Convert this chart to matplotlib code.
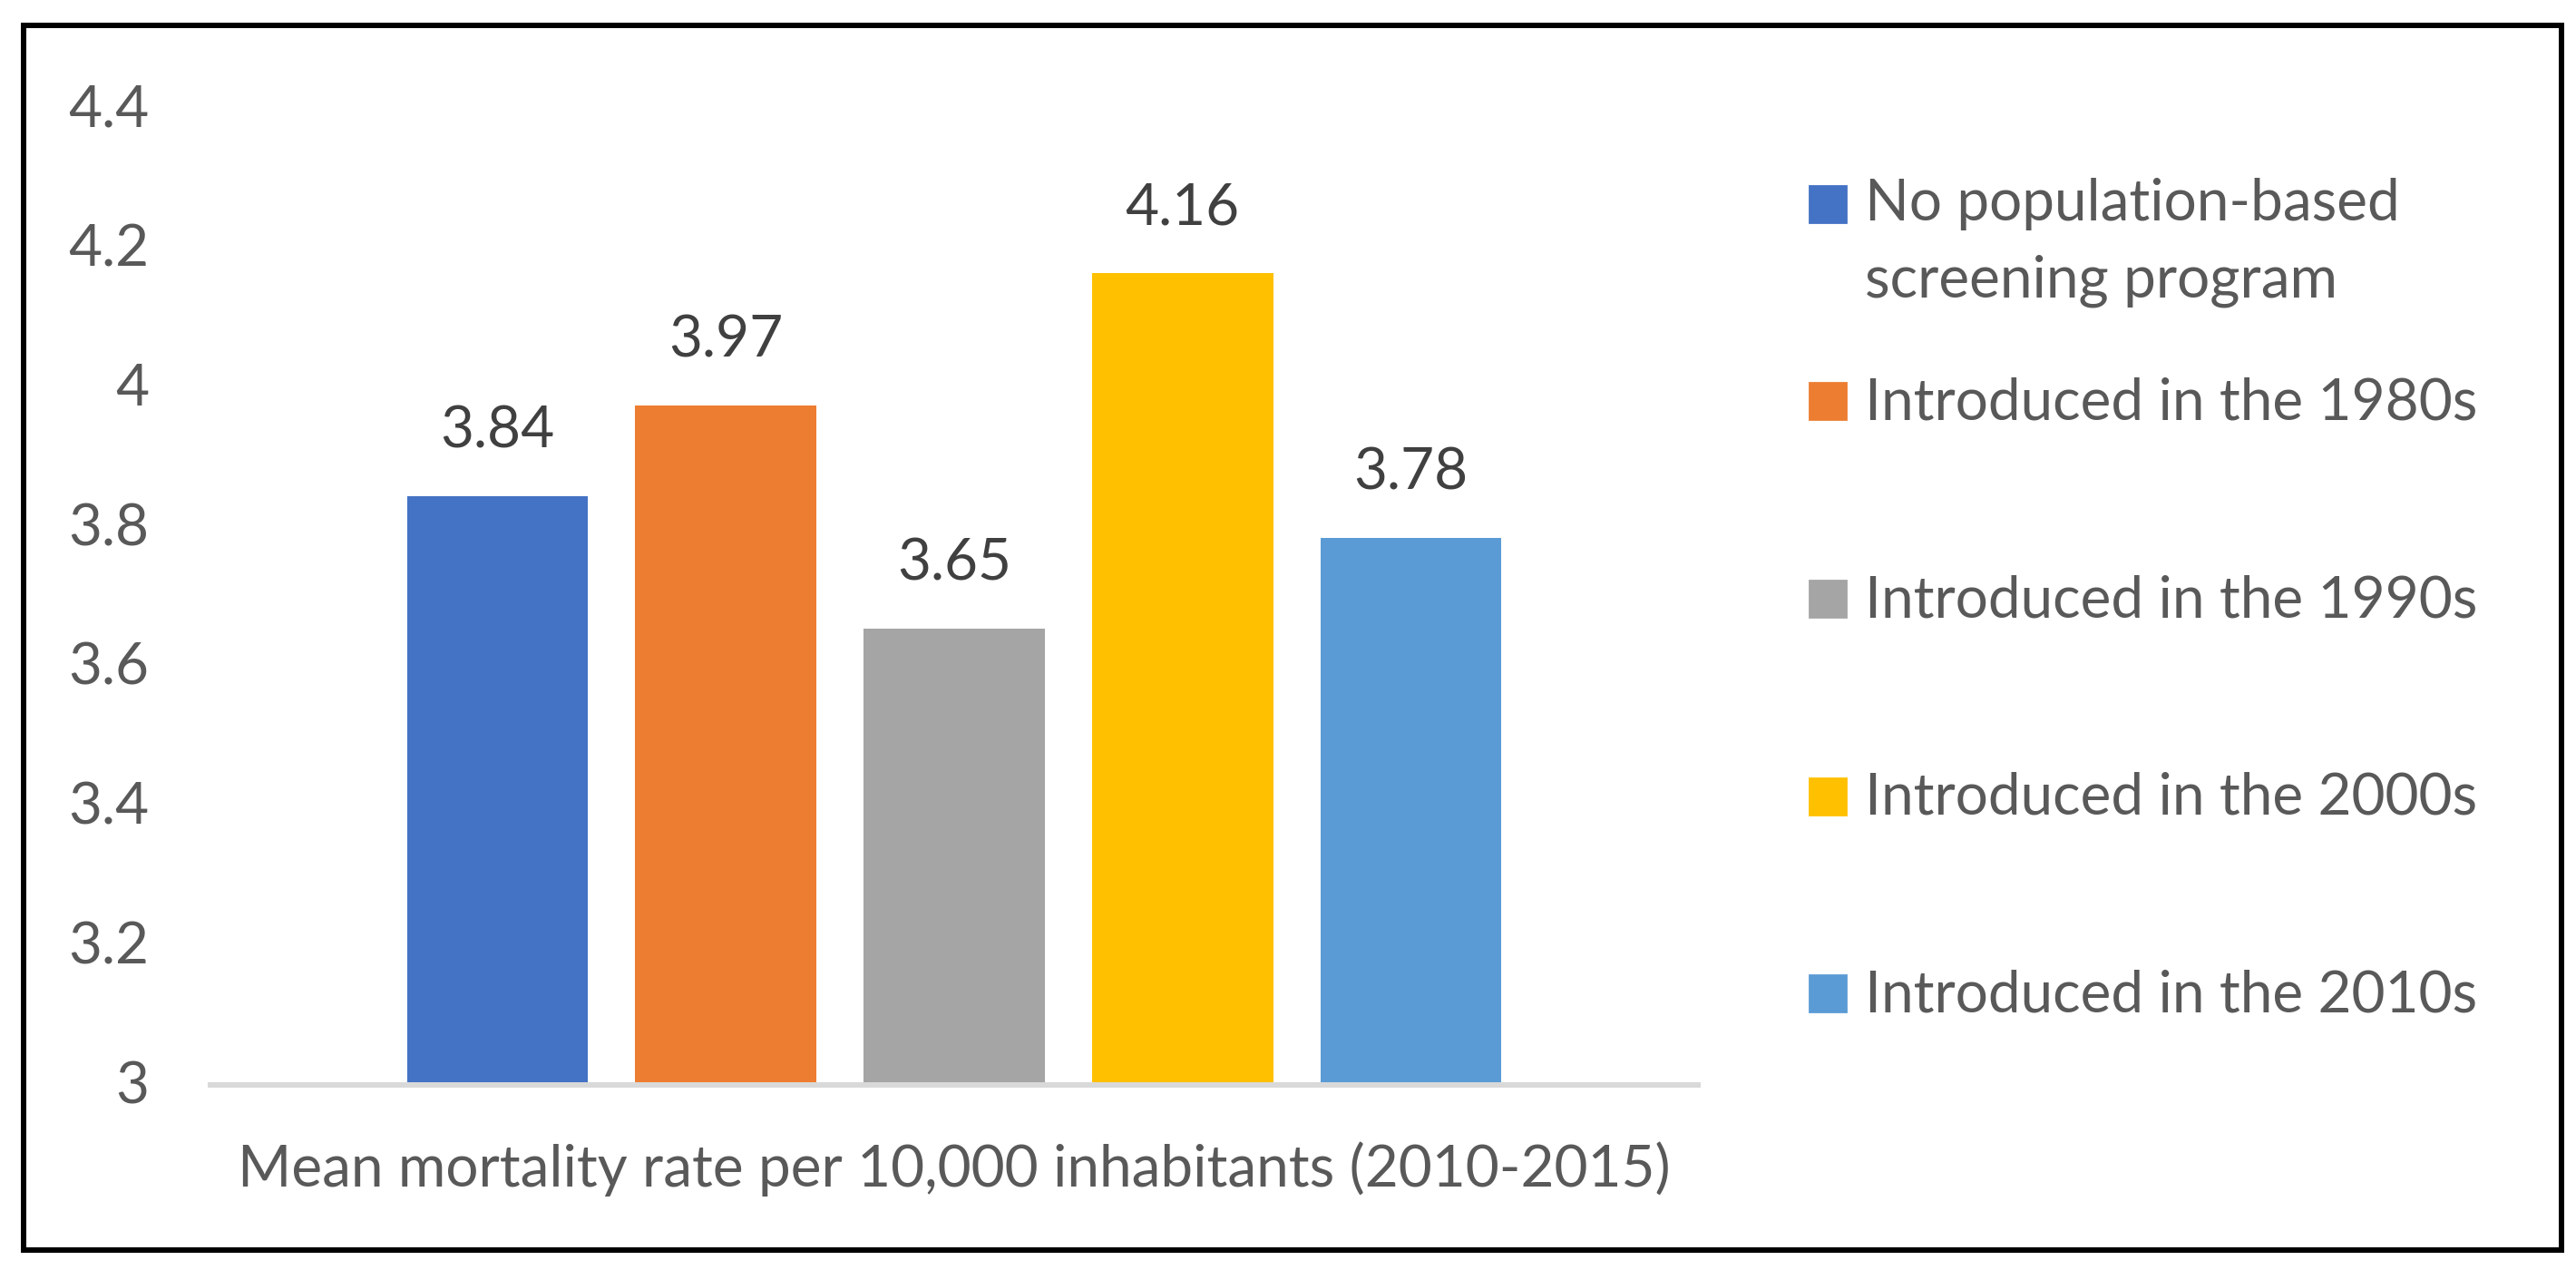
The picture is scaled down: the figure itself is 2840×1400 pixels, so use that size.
import matplotlib.pyplot as plt
from matplotlib.patches import Rectangle
from matplotlib.ticker import FuncFormatter

plt.rcParams["font.family"] = ["Lato", "DejaVu Sans"]

groups = [
    "No population-based\nscreening program",
    "Introduced in the 1980s",
    "Introduced in the 1990s",
    "Introduced in the 2000s",
    "Introduced in the 2010s",
]
values = [3.84, 3.97, 3.65, 4.16, 3.78]
colors = ["#4472C4", "#ED7D31", "#A5A5A5", "#FFC000", "#5B9BD5"]
category = "Mean mortality rate per 10,000 inhabitants (2010-2015)"
y_ticks = [3.0, 3.2, 3.4, 3.6, 3.8, 4.0, 4.2, 4.4]

W, H, DPI = 2840, 1400, 200
px = 72 / DPI  # points per pixel
fs = 23

fig = plt.figure(figsize=(W / DPI, H / DPI), dpi=DPI)
ax = fig.add_axes([232 / W, 1 - 1193 / H, (1872 - 232) / W, (1193 - 116) / H])

xs = list(range(len(values)))
bars = ax.bar(xs, values, width=0.794, bottom=0, color=colors, zorder=3)
ax.set_ylim(3.0, 4.4)
ax.set_xlim(-1.257, 5.257)

for x, v in zip(xs, values):
    ax.annotate(f"{v:.2f}", (x, v), xytext=(0, 53 * px), textcoords="offset points",
                ha="center", va="baseline", fontsize=fs, color="#404040")

ax.set_yticks(y_ticks)
ax.yaxis.set_major_formatter(FuncFormatter(lambda v, _: f"{v:g}"))
ax.tick_params(axis="y", length=0, pad=68 * px, labelsize=fs, labelcolor="#595959")
ax.set_xticks([])

for side in ["top", "right", "left"]:
    ax.spines[side].set_visible(False)
ax.spines["bottom"].set_color("#D9D9D9")
ax.spines["bottom"].set_linewidth(6 * px)
ax.spines["bottom"].set_position(("outward", 3 * px))
ax.spines["bottom"].set_zorder(2)

fig.text((232 + 1872) / 2 / W, 1 - 1308 / H, category, ha="center", va="baseline",
         fontsize=fs, color="#595959")

# legend, Excel-style on the right
legend_texts = []
for i, (label, c) in enumerate(zip(groups, colors)):
    cy = 225 + i * 217.5
    fig.patches.append(Rectangle((1995 / W, 1 - (cy + 20) / H), 40 / W, 40 / H,
                                 transform=fig.transFigure, color=c))
    t = fig.text(2056 / W, 1 - (cy + 20) / H, label, ha="left", va="baseline",
                 fontsize=fs, color="#595959", linespacing=1.56)
    legend_texts.append(t)

# the first label has two lines: keep the first line next to the square
legend_texts[0].set_va("top")
legend_texts[0].set_y(1 - 196 / H)

fig.patches.append(Rectangle((26 / W, 1 - 1377.5 / H), (2824 - 26) / W, (1377.5 - 28) / H,
                             transform=fig.transFigure, fill=False, edgecolor="black",
                             linewidth=6 * px))

fig.savefig("out.png", dpi=DPI)
